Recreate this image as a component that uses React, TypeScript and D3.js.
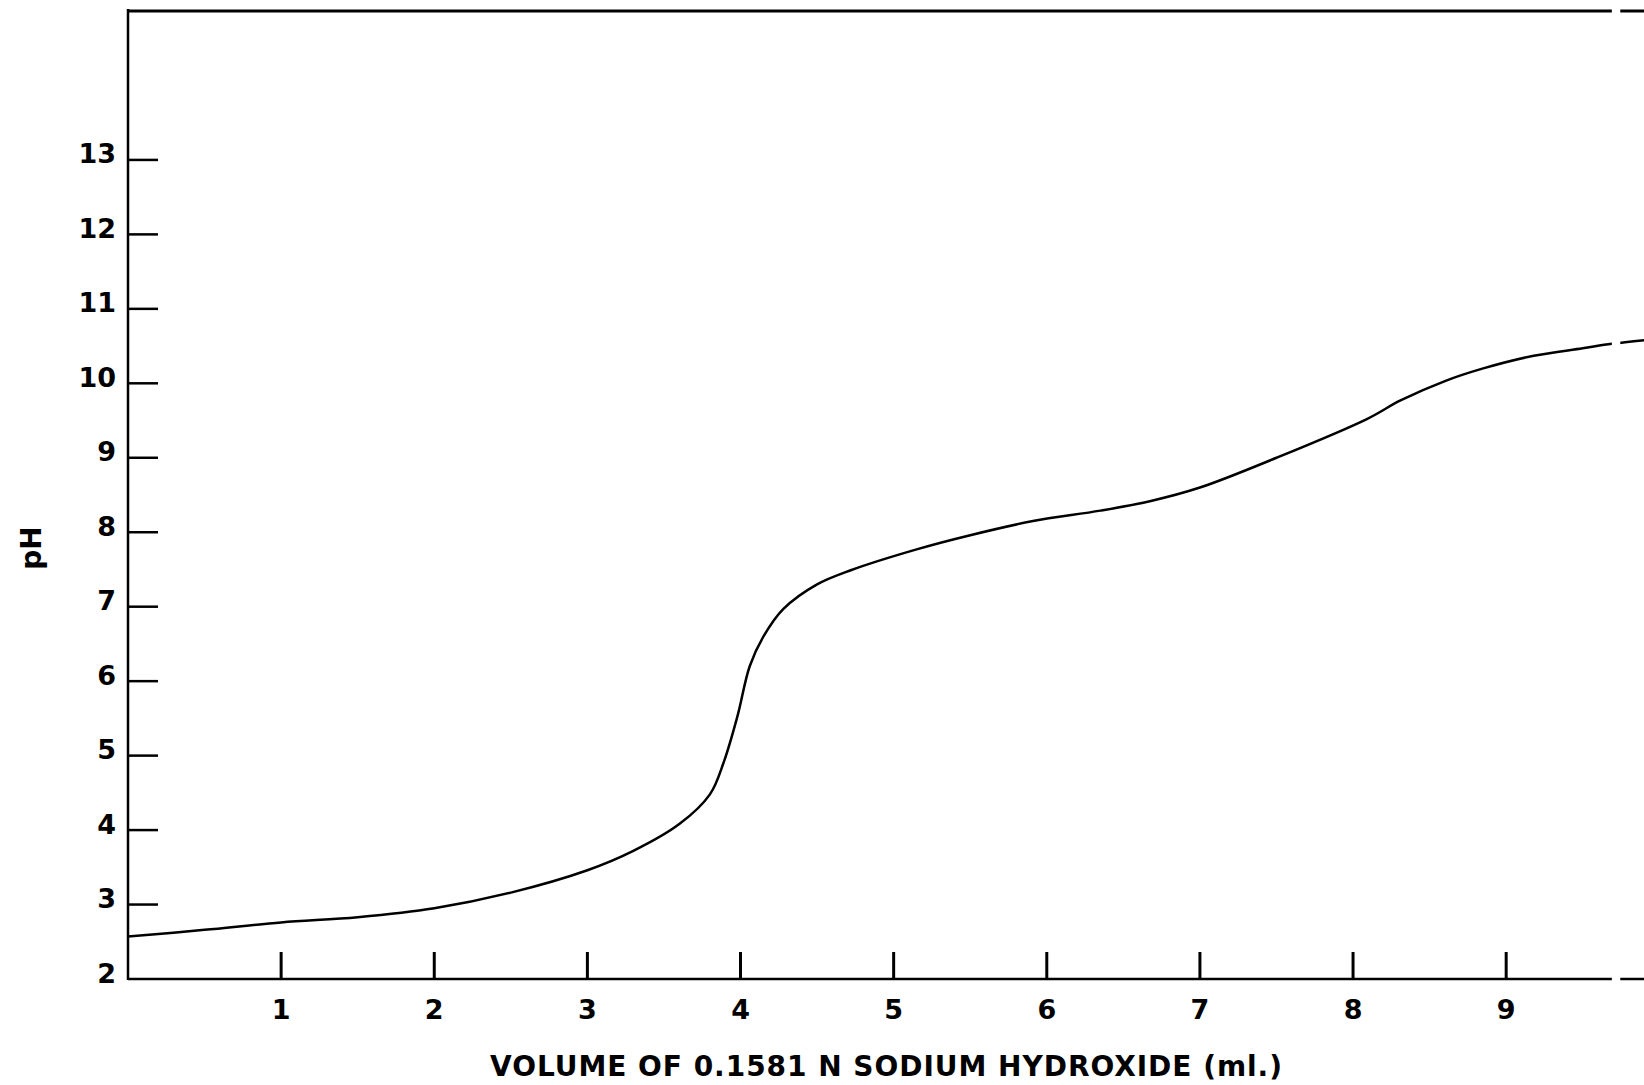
import React, { useEffect, useRef } from "react";
import * as d3 from "d3";

// titration curve: ml of NaOH vs pH
const volume = [
  0.0, 0.5, 1.0, 1.5, 2.0, 2.5, 3.0, 3.3, 3.6, 3.8, 3.89, 3.98, 4.06, 4.15,
  4.28, 4.5, 4.72, 5.15, 5.5, 5.91, 6.35, 6.68, 7.0, 7.5, 8.09, 8.31,
  8.6, 8.85, 9.18, 9.5, 9.69, 9.9,
];
const ph = [
  2.57, 2.66, 2.76, 2.83, 2.95, 3.16, 3.46, 3.72, 4.08, 4.48, 4.91, 5.53, 6.2,
  6.6, 6.97, 7.3, 7.49, 7.77, 7.96, 8.15, 8.29, 8.42, 8.6, 9.0, 9.52,
  9.77, 10.03, 10.2, 10.37, 10.47, 10.53, 10.58,
];
const xTicks = [1, 2, 3, 4, 5, 6, 7, 8, 9];
const yTicks = [3, 4, 5, 6, 7, 8, 9, 10, 11, 12, 13];
const yLabels = [2, 3, 4, 5, 6, 7, 8, 9, 10, 11, 12, 13];

const W = 1644;
const H = 1085;
const FONT = "'DejaVu Sans', sans-serif";

const App = () => {
  const svgRef = useRef<SVGSVGElement>(null);

  useEffect(() => {
    const svg = d3.select(svgRef.current);
    svg.selectAll("*").remove();

    const x = d3.scaleLinear().domain([0, 9.9]).range([128, W]);
    const y = d3.scaleLinear().domain([2, 15]).range([979, 11]);

    const data = volume.map((v, i) => ({ v, p: ph[i] }));

    // frame: top line, left axis, bottom axis
    svg.append("line")
      .attr("x1", x(0)).attr("x2", x(9.9))
      .attr("y1", y(15)).attr("y2", y(15))
      .attr("stroke", "#000").attr("stroke-width", 3);
    svg.append("line")
      .attr("x1", x(0)).attr("x2", x(9.9))
      .attr("y1", y(2)).attr("y2", y(2))
      .attr("stroke", "#000").attr("stroke-width", 2.5);
    svg.append("line")
      .attr("x1", x(0)).attr("x2", x(0))
      .attr("y1", y(15) - 2).attr("y2", y(2) + 1)
      .attr("stroke", "#000").attr("stroke-width", 2.5);

    // y ticks (pointing inward)
    svg.selectAll("line.yt")
      .data(yTicks)
      .join("line")
      .attr("class", "yt")
      .attr("x1", x(0)).attr("x2", x(0) + 30)
      .attr("y1", d => y(d)).attr("y2", d => y(d))
      .attr("stroke", "#000").attr("stroke-width", 2.5);

    svg.selectAll("text.yl")
      .data(yLabels)
      .join("text")
      .attr("class", "yl")
      .attr("x", 116)
      .attr("y", d => y(d) - 6)
      .attr("text-anchor", "end")
      .attr("dominant-baseline", "central")
      .attr("font-family", FONT)
      .attr("font-weight", "bold")
      .attr("font-size", 27)
      .text(d => d);

    // x ticks (pointing up)
    svg.selectAll("line.xt")
      .data(xTicks)
      .join("line")
      .attr("class", "xt")
      .attr("x1", d => x(d)).attr("x2", d => x(d))
      .attr("y1", y(2)).attr("y2", y(2) - 27)
      .attr("stroke", "#000").attr("stroke-width", 3);

    svg.selectAll("text.xl")
      .data(xTicks)
      .join("text")
      .attr("class", "xl")
      .attr("x", d => x(d))
      .attr("y", 1009)
      .attr("text-anchor", "middle")
      .attr("dominant-baseline", "central")
      .attr("font-family", FONT)
      .attr("font-weight", "bold")
      .attr("font-size", 27)
      .text(d => d);

    // curve
    const line = d3.line<{ v: number; p: number }>()
      .x(d => x(d.v))
      .y(d => y(d.p))
      .curve(d3.curveCatmullRom.alpha(0.5));
    svg.append("path")
      .datum(data)
      .attr("d", line)
      .attr("fill", "none")
      .attr("stroke", "#000")
      .attr("stroke-width", 2.5);

    // small break near the right edge of the scan
    svg.append("rect")
      .attr("x", x(9.69)).attr("y", 0)
      .attr("width", x(9.745) - x(9.69)).attr("height", H)
      .attr("fill", "#fff");

    // axis titles
    svg.append("text")
      .attr("x", 490)
      .attr("y", 1066)
      .attr("dominant-baseline", "central")
      .attr("textLength", 792)
      .attr("lengthAdjust", "spacing")
      .attr("font-family", FONT)
      .attr("font-weight", "bold")
      .attr("font-size", 28)
      .text("VOLUME OF 0.1581 N  SODIUM HYDROXIDE (ml.)");

    svg.append("text")
      .attr("transform", `translate(31, 548) rotate(-90)`)
      .attr("text-anchor", "middle")
      .attr("dominant-baseline", "central")
      .attr("font-family", FONT)
      .attr("font-weight", "bold")
      .attr("font-size", 28)
      .text("pH");
  }, []);

  return (
    <svg
      ref={svgRef}
      width={W}
      height={H}
      style={{ position: "absolute", left: 0, top: 0, background: "#fff" }}
    />
  );
};

export default App;
